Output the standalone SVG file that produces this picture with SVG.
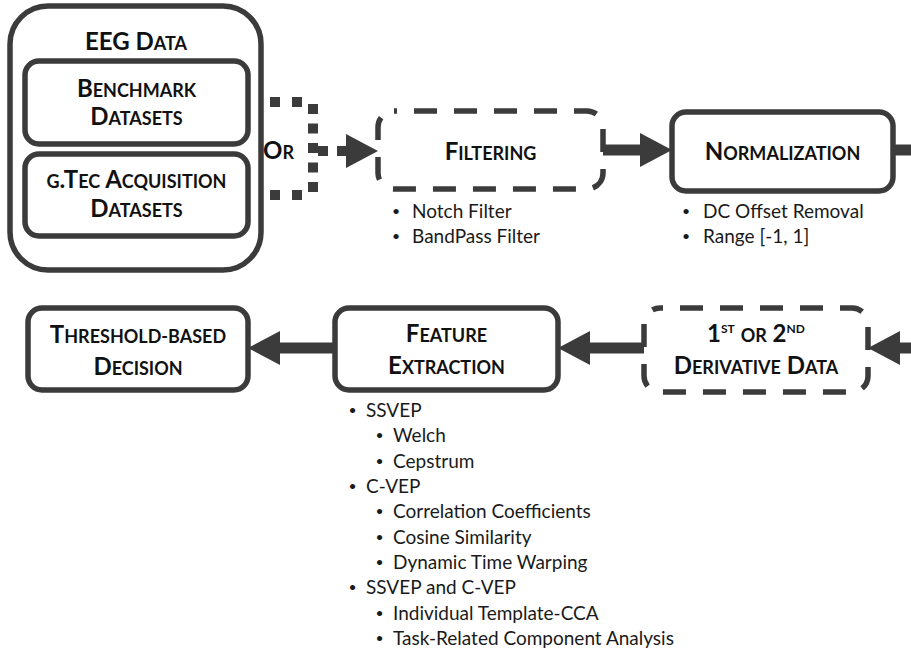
<svg xmlns="http://www.w3.org/2000/svg" width="911" height="652" viewBox="0 0 911 652">
  <defs>
    <style>
      .box { fill: #ffffff; stroke: #3b3b3b; stroke-width: 5.5; }
      .dashed { stroke-dasharray: 23 17; stroke-dashoffset: 20; }
      .h { font-family: Lato, "Open Sans", "Liberation Sans", sans-serif; font-weight: bold; font-size: 24px; fill: #111111; text-anchor: middle; }
      .sc { font-size: 18px; }
      .sup { font-size: 12px; }
      .li { font-family: Lato, "Open Sans", "Liberation Sans", sans-serif; font-size: 19px; fill: #1a1a1a; }
      .dot { text-anchor: middle; font-size: 14px; baseline-shift: 2px; }
      .conn { fill: none; stroke: #3b3b3b; stroke-width: 11; }
      .dots { fill: none; stroke: #3b3b3b; stroke-width: 10; }
    </style>
    <marker id="head" markerUnits="userSpaceOnUse" markerWidth="33" markerHeight="35" refX="0" refY="17" orient="auto">
      <path d="M0,0 L32,17 L0,34 Z" fill="#3b3b3b"/>
    </marker>
  </defs>

  <!-- connectors -->
  <g id="connectors">
    <!-- dotted "or" bracket joining the two data sources -->
    <path class="dots" d="M248,102 H304" stroke-dasharray="10 12"/>
    <path class="dots" d="M248,195 H304" stroke-dasharray="10 12"/>
    <path class="dots" d="M313,104 V192" stroke-dasharray="10 9.5"/>
    <path class="dots" d="M318,151 H346" stroke-dasharray="10 9" marker-end="url(#head)"/>
    <!-- filtering to normalization -->
    <path class="conn" d="M603,150 H640" marker-end="url(#head)"/>
    <!-- normalization onward (leaves the frame) -->
    <path class="conn" d="M893,150 H911"/>
    <!-- incoming to derivative stage -->
    <path class="conn" d="M911,348 H900" marker-end="url(#head)"/>
    <!-- derivative to feature extraction -->
    <path class="conn" d="M644,348 H590" marker-end="url(#head)"/>
    <!-- feature extraction to decision -->
    <path class="conn" d="M335,348 H280" marker-end="url(#head)"/>
  </g>

  <!-- EEG data container -->
  <g id="eeg-data">
    <rect class="box" x="10" y="6" width="251" height="264" rx="38"/>
    <text class="h" x="136" y="50">EEG <tspan>D</tspan><tspan class="sc">ATA</tspan></text>
  </g>

  <g id="benchmark">
    <rect class="box" x="25" y="61" width="223" height="83" rx="14"/>
    <text class="h" x="136.5" y="97">B<tspan class="sc">ENCHMARK</tspan></text>
    <text class="h" x="136.5" y="125">D<tspan class="sc">ATASETS</tspan></text>
  </g>

  <g id="gtec">
    <rect class="box" x="25" y="154" width="223" height="82" rx="14"/>
    <text class="h" x="136.5" y="188"><tspan class="sc">G</tspan>.T<tspan class="sc">EC</tspan> A<tspan class="sc">CQUISITION</tspan></text>
    <text class="h" x="136.5" y="217">D<tspan class="sc">ATASETS</tspan></text>
  </g>

  <g id="or-label">
    <text class="h" x="263" y="159" style="text-anchor:start">O<tspan class="sc">R</tspan></text>
  </g>

  <g id="filtering">
    <rect class="box dashed" x="378" y="111" width="225" height="78" rx="16"/>
    <text class="h" x="490.5" y="160">F<tspan class="sc">ILTERING</tspan></text>
    <text class="li" y="218"><tspan class="dot" x="396">•</tspan><tspan x="412">Notch Filter</tspan></text>
    <text class="li" y="243"><tspan class="dot" x="396">•</tspan><tspan x="412">BandPass Filter</tspan></text>
  </g>

  <g id="normalization">
    <rect class="box" x="672" y="112" width="221" height="79" rx="14"/>
    <text class="h" x="782.5" y="160">N<tspan class="sc">ORMALIZATION</tspan></text>
    <text class="li" y="218"><tspan class="dot" x="686">•</tspan><tspan x="703">DC Offset Removal</tspan></text>
    <text class="li" y="243"><tspan class="dot" x="686">•</tspan><tspan x="703">Range [-1, 1]</tspan></text>
  </g>

  <g id="derivative">
    <rect class="box dashed" x="644" y="308" width="224" height="84" rx="16"/>
    <text class="h" x="756" y="342">1<tspan class="sup" dy="-9">ST</tspan><tspan dy="9"> </tspan><tspan class="sc">OR</tspan> 2<tspan class="sup" dy="-9">ND</tspan></text>
    <text class="h" x="756" y="374">D<tspan class="sc">ERIVATIVE</tspan> D<tspan class="sc">ATA</tspan></text>
  </g>

  <g id="feature-extraction">
    <rect class="box" x="335" y="308" width="223" height="82" rx="14"/>
    <text class="h" x="446.5" y="342">F<tspan class="sc">EATURE</tspan></text>
    <text class="h" x="446.5" y="374">E<tspan class="sc">XTRACTION</tspan></text>
    <text class="li" y="417"><tspan class="dot" x="352.5">•</tspan><tspan x="366">SSVEP</tspan></text>
    <text class="li" y="442"><tspan class="dot" x="379.5">•</tspan><tspan x="393">Welch</tspan></text>
    <text class="li" y="467.5"><tspan class="dot" x="379.5">•</tspan><tspan x="393">Cepstrum</tspan></text>
    <text class="li" y="493"><tspan class="dot" x="352.5">•</tspan><tspan x="366">C-VEP</tspan></text>
    <text class="li" y="518"><tspan class="dot" x="379.5">•</tspan><tspan x="393">Correlation Coefficients</tspan></text>
    <text class="li" y="543.5"><tspan class="dot" x="379.5">•</tspan><tspan x="393">Cosine Similarity</tspan></text>
    <text class="li" y="569"><tspan class="dot" x="379.5">•</tspan><tspan x="393">Dynamic Time Warping</tspan></text>
    <text class="li" y="594"><tspan class="dot" x="352.5">•</tspan><tspan x="366">SSVEP and C-VEP</tspan></text>
    <text class="li" y="619.5"><tspan class="dot" x="379.5">•</tspan><tspan x="393">Individual Template-CCA</tspan></text>
    <text class="li" y="645"><tspan class="dot" x="379.5">•</tspan><tspan x="393">Task-Related Component Analysis</tspan></text>
  </g>

  <g id="decision">
    <rect class="box" x="28" y="308" width="220" height="82" rx="14"/>
    <text class="h" x="138" y="343">T<tspan class="sc">HRESHOLD-BASED</tspan></text>
    <text class="h" x="138" y="375">D<tspan class="sc">ECISION</tspan></text>
  </g>
</svg>
